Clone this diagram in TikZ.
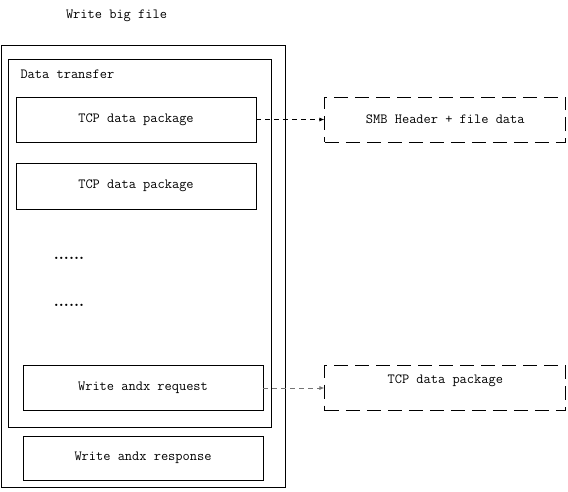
\documentclass[tikz,border=0pt]{standalone}
\usepackage{tikz}
\usetikzlibrary{positioning,arrows.meta}

\begin{document}
\begin{tikzpicture}[x=1pt,y=-1pt,
    every node/.style={font=\fontsize{14}{16}\selectfont\ttfamily},
    packet/.style={draw, line width=0.8pt, minimum width=240pt, minimum height=45pt, inner sep=0pt},
    frame/.style={draw, line width=0.8pt, inner sep=0pt},
    ghost/.style={packet, dash pattern=on 14pt off 7pt, minimum width=241pt},
    dots/.style={anchor=base, font=\fontsize{16}{18}\selectfont\rmfamily\bfseries},
    link/.style={-{Latex[length=5pt,width=4pt]}, line width=0.8pt, dash pattern=on 5pt off 4pt}]
          \useasboundingbox (0,0) rectangle (568,491);
          \node (title) at (116.5,16) {Write big file};
          \node[frame, minimum width=283.5pt, minimum height=441.5pt] (outer) at (143.25,266.25) {};
          \node[frame, minimum width=263pt, minimum height=368pt] (xfer) at (139.5,243) {};
          \node[anchor=west] (xferlabel) at (17,74) {Data transfer};
          \node[packet] (tcp1) at (136,119.5) {TCP data package};
          \node[packet, minimum height=46pt] (tcp2) at (136,186) {TCP data package};
          \node[dots] (dots1) at (69,259) {......};
          \node[dots] (dots2) at (69,306) {......};
          \node[packet, minimum height=44.5pt] (req) at (143,388) {Write andx request};
          \node[packet, minimum height=44pt] (resp) at (143,458) {Write andx response};
          \node[ghost] (smb) [right=68pt of tcp1] {SMB Header + file data};
          \node[ghost, text height=10pt, text depth=19pt] (tcp3) [right=61pt of req] {TCP data package};
          \path[link] (tcp1) edge (smb)
                      (req) edge[black!55] (tcp3);
        \end{tikzpicture}
\end{document}
